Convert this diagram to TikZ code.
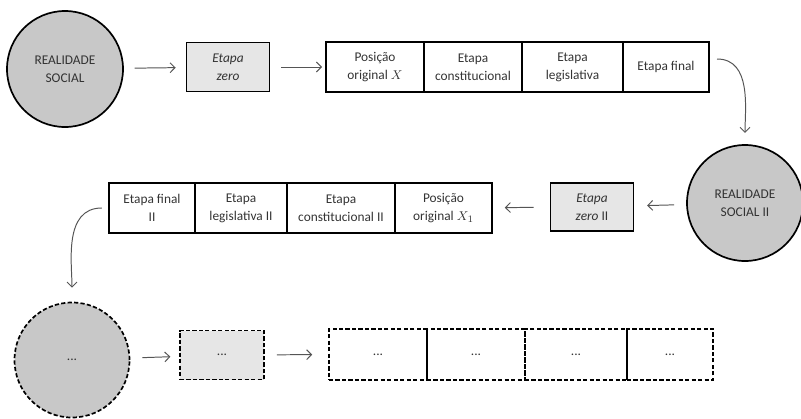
\documentclass[tikz,border=0pt]{standalone}
\usepackage{fontspec}
\setmainfont{Carlito}
\usepackage{xcolor}
\usepackage{tikz}
\usetikzlibrary{positioning, arrows.meta}

\definecolor{circgray}{HTML}{C8C8C8}
\definecolor{boxgray}{HTML}{E6E6E6}
\definecolor{linegray}{HTML}{555555}

\begin{document}
\begin{tikzpicture}[
    txt/.style={font=\fontsize{9.5}{13}\selectfont, align=center, text=black!80},
    realidade/.style={txt, draw, circle, line width=1.2pt, fill=circgray,
                      minimum size=2.9cm, inner sep=0pt},
    zerobox/.style={txt, draw, line width=1.2pt, fill=boxgray,
                    minimum width=2.075cm, minimum height=1.225cm, inner sep=1pt},
    cell/.style={txt, draw, line width=1.2pt, minimum height=1.25cm,
                 inner sep=1pt, outer sep=0pt},
    ghost/.style={dash pattern=on 3pt off 1.6pt},
    arrow/.style={-{Straight Barb[length=3.5pt,width=7pt]}, linegray,
                  line width=0.7pt, shorten <=0.27cm, shorten >=0.25cm},
    curvearrow/.style={-{Straight Barb[length=3.5pt,width=7pt]}, linegray,
                 line width=0.7pt},
]
\useasboundingbox (0,0) rectangle (20.025,-10.475);

% --- First round ---
\node[realidade] (soc1) at (1.625, -1.725) {REALIDADE\\SOCIAL};
\node[zerobox] (zero1) at (5.7, -1.675) {\textit{Etapa}\\\textit{zero}};

\node[cell, minimum width=2.45cm, anchor=west] (pos1) at (8.15, -1.675)
    {Posição\\original $X$};
\node[cell, minimum width=2.45cm, right=0pt of pos1] (const1)
    {Etapa\\constitucional};
\node[cell, minimum width=2.525cm, right=0pt of const1] (leg1)
    {Etapa\\legislativa};
\node[cell, minimum width=2.15cm, right=0pt of leg1] (fin1)
    {Etapa final};

% --- Second round ---
\node[realidade] (soc2) at (18.625, -5.075) {REALIDADE\\SOCIAL II};
\node[zerobox, minimum height=1.2cm] (zero2) at (14.8, -5.175)
    {\textit{Etapa}\\\textit{zero} II};

\node[cell, minimum width=2.425cm, anchor=east] (pos2) at (12.3, -5.2)
    {Posição\\original $X_1$};
\node[cell, minimum width=2.7cm, left=0pt of pos2] (const2)
    {Etapa\\constitucional II};
\node[cell, minimum width=2.3cm, left=0pt of const2] (leg2)
    {Etapa\\legislativa II};
\node[cell, minimum width=2.15cm, left=0pt of leg2] (fin2)
    {Etapa final\\II};

% --- Next rounds ---
\node[realidade, ghost, minimum size=2.875cm] (soc3) at (1.8, -9.0) {...};
\node[zerobox, ghost, minimum width=2.1cm] (zero3) at (5.55, -8.875) {...};

\node[cell, ghost, minimum width=2.45cm, minimum height=1.275cm,
      anchor=west] (pos3) at (8.225, -8.86) {...};
\node[cell, ghost, minimum width=2.45cm, minimum height=1.275cm,
      right=0pt of pos3] (const3) {...};
\node[cell, ghost, minimum width=2.55cm, minimum height=1.275cm,
      right=0pt of const3] (leg3) {...};
\node[cell, ghost, minimum width=2.15cm, minimum height=1.275cm,
      right=0pt of leg3] (fin3) {...};

% --- Flow ---
\draw[arrow] (soc1) -- (zero1);
\draw[arrow, shorten >=0.1cm] (zero1) -- (pos1);
\draw[curvearrow, shorten >=0.28cm] ([shift={(0.2,0.2)}]fin1.east)
    to[out=0, in=90] (soc2.north);

\draw[arrow, shorten <=0.3cm, shorten >=0.32cm] (soc2) -- (zero2);
\draw[arrow, shorten <=0.4cm, shorten >=0.32cm] (zero2) -- (pos2);
\draw[curvearrow, shorten >=0.35cm] ([xshift=-0.18cm]fin2.west)
    to[out=180, in=90] (soc3.north);

\draw[arrow, shorten <=0.3cm, shorten >=0.22cm] (soc3) -- (zero3);
\draw[arrow, shorten <=0.3cm, shorten >=0.42cm] (zero3) -- (pos3);
\end{tikzpicture}
\end{document}
